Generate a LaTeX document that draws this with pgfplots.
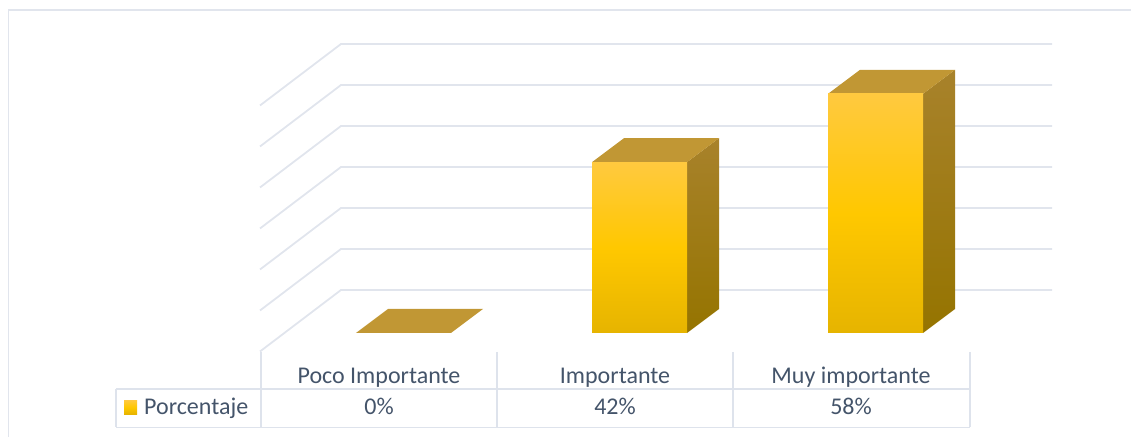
\documentclass[border=0pt]{standalone}
\usepackage{pgfplots}
\usepackage{fontspec}
\setmainfont{Carlito}
\pgfplotsset{compat=1.18}
\definecolor{gridc}{HTML}{E1E5ED}
\definecolor{tablec}{HTML}{DEE3EC}
\definecolor{textc}{HTML}{44546A}
\definecolor{ftop}{HTML}{FFC93F}
\definecolor{fmid}{HTML}{FFC800}
\definecolor{fbot}{HTML}{E6B400}
\definecolor{stop}{HTML}{A8822B}
\definecolor{sbot}{HTML}{957400}
\definecolor{ttop}{HTML}{C19734}
\pgfplotsset{
  gridline/.style={color=gridc,line width=1.8pt,forget plot},
  tableline/.style={color=tablec,line width=1.9pt,forget plot},
  frontface/.style={ybar,bar width=95pt,draw=none,shade,shading=axis,top color=ftop,bottom color=fbot,middle color=fmid,forget plot},
  sideface/.style={draw=none,shade,shading=axis,top color=stop,bottom color=sbot,forget plot},
  topface/.style={draw=none,fill=ttop,forget plot},
}
\begin{document}
\begin{tikzpicture}
\begin{axis}[
  scale only axis,width=1131pt,height=437pt,
  xmin=-1.60593,xmax=3.18644,ymin=-25.3659,ymax=81.2195,
  axis line style={draw=none},
  tick style={draw=none},
  ytick=\empty,
  xtick={0,1,2},
  xticklabels={Poco Importante,Importante,Muy importante},
  xticklabel style={anchor=base,yshift=53pt,text=textc,font=\fontsize{24}{28}\selectfont},
]
% frame
\addplot[gridline] coordinates {(-1.5699,-26) (-1.5699,78.78) (3.2,78.78)};
% walls and gridlines (0 to 60 percent)
\addplot[gridline] coordinates {(-0.5042,-4.51) (-0.1610,10.49) (2.8517,10.49)};
\addplot[gridline] coordinates {(-0.5042,5.49) (-0.1610,20.49) (2.8517,20.49)};
\addplot[gridline] coordinates {(-0.5042,15.49) (-0.1610,30.49) (2.8517,30.49)};
\addplot[gridline] coordinates {(-0.5042,25.49) (-0.1610,40.49) (2.8517,40.49)};
\addplot[gridline] coordinates {(-0.5042,35.49) (-0.1610,50.49) (2.8517,50.49)};
\addplot[gridline] coordinates {(-0.5042,45.49) (-0.1610,60.49) (2.8517,60.49)};
\addplot[gridline] coordinates {(-0.5042,55.49) (-0.1610,70.49) (2.8517,70.49)};
% data table
\addplot[tableline] coordinates {(-0.5,-4.63) (-0.5,-23.05)};
\addplot[tableline] coordinates {(0.5,-4.63) (0.5,-23.05)};
\addplot[tableline] coordinates {(1.5,-4.63) (1.5,-23.05)};
\addplot[tableline] coordinates {(2.5042,-4.63) (2.5042,-23.05)};
\addplot[tableline] coordinates {(-1.1144,-13.66) (2.5042,-13.66)};
\addplot[tableline] coordinates {(-1.1144,-23.05) (2.5042,-23.05)};
\addplot[tableline] coordinates {(-1.1144,-13.66) (-1.1144,-23.05)};
% bar Poco Importante, 0
\addplot[topface] coordinates {(-0.0975,0) (0.3051,0) (0.4407,5.854) (0.0381,5.854)} -- cycle;
% bar Importante, 41.67
\addplot[sideface] coordinates {(1.3051,0) (1.4407,5.854) (1.4407,47.52) (1.3051,41.67)} -- cycle;
\addplot[topface] coordinates {(0.9025,41.67) (1.3051,41.67) (1.4407,47.52) (1.0381,47.52)} -- cycle;
\addplot[frontface] coordinates {(1.1038,41.67)};
% bar Muy importante, 58.33
\addplot[sideface] coordinates {(2.3051,0) (2.4407,5.854) (2.4407,64.18) (2.3051,58.33)} -- cycle;
\addplot[topface] coordinates {(1.9025,58.33) (2.3051,58.33) (2.4407,64.18) (2.0381,64.18)} -- cycle;
\addplot[frontface] coordinates {(2.1038,58.33)};
% legend key
\addplot[draw=none,shade,shading=axis,top color=ftop,bottom color=fbot,middle color=fmid,forget plot] coordinates {(-1.0805,-16.4) (-1.0254,-16.4) (-1.0254,-19.8) (-1.0805,-19.8)} -- cycle;
% table text
\node[anchor=base west,inner sep=0pt,text=textc,font=\fontsize{24}{28}\selectfont] at (axis cs:-0.9958,-19.9) {Porcentaje};
\node[anchor=base,text=textc,font=\fontsize{24}{28}\selectfont] at (axis cs:0,-19.9) {0\%};
\node[anchor=base,text=textc,font=\fontsize{24}{28}\selectfont] at (axis cs:1,-19.9) {42\%};
\node[anchor=base,text=textc,font=\fontsize{24}{28}\selectfont] at (axis cs:2,-19.9) {58\%};
\end{axis}
\end{tikzpicture}
\end{document}
